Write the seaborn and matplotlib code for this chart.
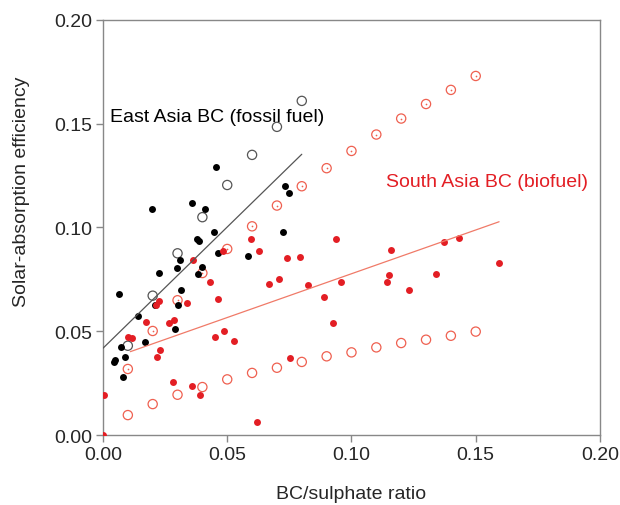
import numpy as np
import pandas as pd
import matplotlib
matplotlib.use("Agg")
import matplotlib.pyplot as plt
import seaborn as sns

# East Asia BC (fossil fuel) - filled black dots
ea_x = [0.0455, 0.0733, 0.0747, 0.0196, 0.0359, 0.0410, 0.0448, 0.0723, 0.0377, 0.0386,
        0.0464, 0.0583, 0.0310, 0.0296, 0.0224, 0.0400, 0.0383, 0.0063, 0.0313, 0.0208,
        0.0303, 0.0140, 0.0291, 0.0169, 0.0072, 0.0090, 0.0048, 0.0044, 0.0079]
ea_y = [0.1291, 0.1198, 0.1167, 0.1089, 0.1118, 0.1089, 0.0979, 0.0979, 0.0943, 0.0936,
        0.0875, 0.0864, 0.0843, 0.0806, 0.0779, 0.0808, 0.0776, 0.0678, 0.0697, 0.0626,
        0.0626, 0.0575, 0.0511, 0.0447, 0.0422, 0.0374, 0.0363, 0.0350, 0.0281]

# South Asia BC (biofuel) - filled red dots
sa_x = [0.0594, 0.0628, 0.0481, 0.0739, 0.0791, 0.0363, 0.0432, 0.0669, 0.0707, 0.0825,
        0.0464, 0.0889, 0.0224, 0.0215, 0.0337, 0.0173, 0.0264, 0.0286, 0.0099, 0.0117,
        0.0229, 0.0218, 0.0449, 0.0488, 0.0527, 0.0280, 0.0359, 0.0391, 0.0005, 0.0000,
        0.0618, 0.0751, 0.0936, 0.1161, 0.1373, 0.1433, 0.0957, 0.1149, 0.1144, 0.1340,
        0.1232, 0.0924, 0.1592]
sa_y = [0.0944, 0.0888, 0.0885, 0.0851, 0.0859, 0.0843, 0.0735, 0.0727, 0.0751, 0.0721,
        0.0656, 0.0663, 0.0647, 0.0626, 0.0634, 0.0546, 0.0540, 0.0554, 0.0474, 0.0467,
        0.0409, 0.0374, 0.0474, 0.0502, 0.0452, 0.0257, 0.0236, 0.0193, 0.0193, 0.0000,
        0.0061, 0.0372, 0.0943, 0.0893, 0.0928, 0.0950, 0.0735, 0.0771, 0.0735, 0.0777,
        0.0698, 0.0540, 0.0829]

# model curves (open circles)
ea_model_x = [0.01, 0.02, 0.03, 0.04, 0.05, 0.06, 0.07, 0.08]
ea_model_y = [0.0430, 0.0671, 0.0875, 0.1049, 0.1204, 0.1349, 0.1484, 0.1609]

sa_model_x = [0.01, 0.02, 0.03, 0.04, 0.05, 0.06, 0.07, 0.08,
              0.09, 0.10, 0.11, 0.12, 0.13, 0.14, 0.15]
sa_upper_y = [0.0318, 0.0501, 0.0649, 0.0780, 0.0896, 0.1005, 0.1105, 0.1198,
              0.1285, 0.1368, 0.1447, 0.1524, 0.1594, 0.1662, 0.1729]
sa_lower_y = [0.0096, 0.0149, 0.0194, 0.0231, 0.0268, 0.0299, 0.0324, 0.0352,
              0.0379, 0.0398, 0.0422, 0.0443, 0.0459, 0.0478, 0.0498]

# fitted lines: slope, intercept, x range
ea_fit = (1.1675, 0.0418, 0.0, 0.080)
sa_fit = (0.4216, 0.0355, 0.011, 0.1594)

RED = "#e31e24"
OPEN_RED = "#ef6050"
GREY = "#555555"

sns.set_style("white")
plt.rcParams['font.family'] = ['Liberation Sans', 'DejaVu Sans']

fig = plt.figure(figsize=(6.2, 5.06), dpi=100)
ax = fig.add_axes([0.1661, 0.1383, 0.8016, 0.8208])

# open model circles
sns.scatterplot(x=sa_model_x, y=sa_lower_y, ax=ax, marker="o", s=44,
                facecolors="none", edgecolor=OPEN_RED, linewidth=0.9, zorder=2)
sns.scatterplot(x=sa_model_x, y=sa_upper_y, ax=ax, marker="o", s=44,
                facecolors="none", edgecolor=OPEN_RED, linewidth=0.9, zorder=2)
sns.scatterplot(x=sa_model_x, y=sa_upper_y, ax=ax, marker="o", s=1.5,
                color=OPEN_RED, linewidth=0, zorder=2)
sns.scatterplot(x=ea_model_x, y=ea_model_y, ax=ax, marker="o", s=44,
                facecolors="none", edgecolor=GREY, linewidth=0.9, zorder=2)

# observations
sns.scatterplot(x=ea_x, y=ea_y, ax=ax, color="black", s=25, linewidth=0, zorder=3)
sns.scatterplot(x=sa_x, y=sa_y, ax=ax, color=RED, s=25, linewidth=0, zorder=3)

# fit lines
for (slope, icpt, x0, x1), col in [(ea_fit, GREY), (sa_fit, "#f07a68")]:
    xs = np.array([x0, x1])
    sns.lineplot(x=xs, y=slope * xs + icpt, ax=ax, color=col, linewidth=0.9, zorder=4)

ax.text(0.0028, 0.1535, "East Asia BC (fossil fuel)", fontsize=14, color="black",
        va="center", ha="left")
ax.text(0.1138, 0.1219, "South Asia BC (biofuel)", fontsize=14, color=RED,
        va="center", ha="left")

ax.set_xlim(0, 0.2)
ax.set_ylim(0, 0.2)
ax.set_xticks([0, 0.05, 0.10, 0.15, 0.20])
ax.set_yticks([0, 0.05, 0.10, 0.15, 0.20])
ax.set_xticklabels(["0.00", "0.05", "0.10", "0.15", "0.20"])
ax.set_yticklabels(["0.00", "0.05", "0.10", "0.15", "0.20"])
ax.tick_params(axis="both", direction="out", length=5, width=1, color="#888888",
               labelsize=14, pad=3, left=True, bottom=True)
for sp in ax.spines.values():
    sp.set_color("#888888")
    sp.set_linewidth(1)

ax.set_xlabel("BC/sulphate ratio", fontsize=14, labelpad=16)
ax.set_ylabel("Solar-absorption efficiency", fontsize=14, labelpad=17)
ax.yaxis.label.set_y(0.587)

fig.savefig("out.png", dpi=100)
